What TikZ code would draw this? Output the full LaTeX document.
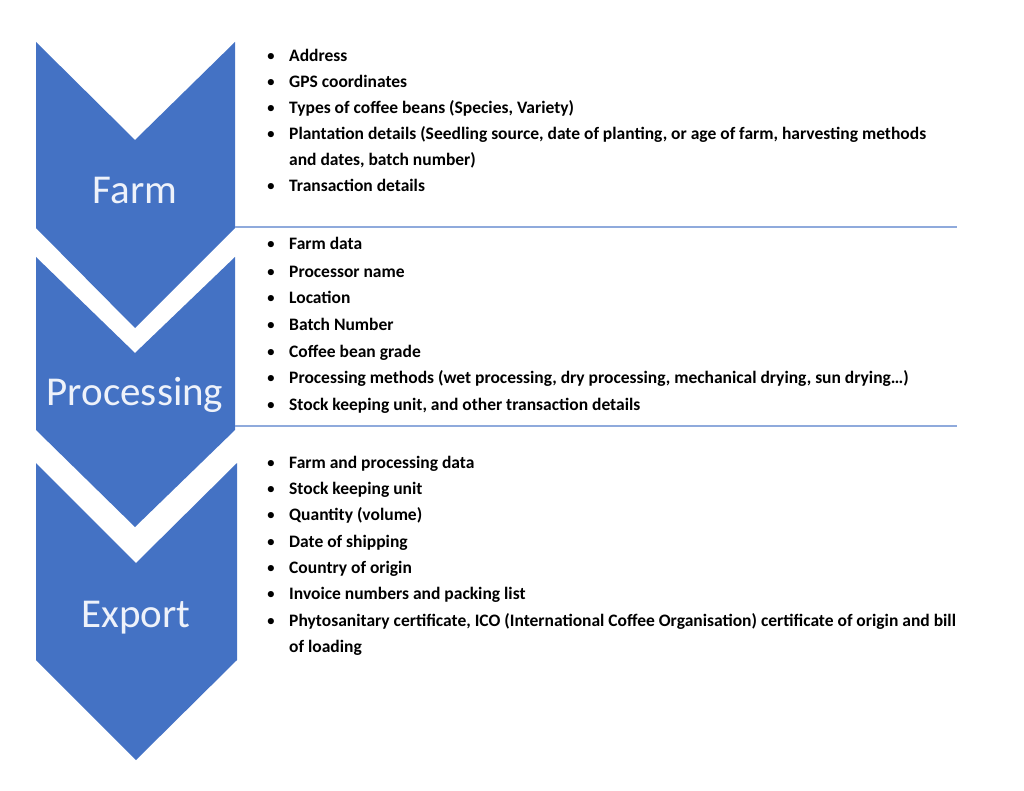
\documentclass[tikz,border=0pt]{standalone}
\usepackage{fontspec}
\setmainfont{Carlito}
\definecolor{chev}{HTML}{4472C4}
\definecolor{sep}{HTML}{8FAADC}
\definecolor{lab}{HTML}{EEF2FA}
\begin{document}
\begin{tikzpicture}[x=1pt,y=-1pt,
  chevbox/.style={fill=chev,draw=none},
  lbl/.style={text=lab,font=\fontsize{41}{45}\selectfont},
  itm/.style={anchor=base west,inner sep=0pt,font=\bfseries\fontsize{17.5}{20}\selectfont},
  bul/.style={anchor=base,inner sep=0pt,font=\fontsize{17.5}{20}\selectfont},
  sepline/.style={draw=sep,line width=1.8pt}]
\useasboundingbox (0,0) rectangle (1024,791);
\fill[chevbox] (36,42) -- (135,140) -- (235,42) -- (235,228) -- (135,328) -- (36,228) -- cycle;
\fill[chevbox] (36,257) -- (135,353) -- (235,257) -- (235,430) -- (135,527) -- (36,430) -- cycle;
\fill[chevbox] (36,463) -- (136,563) -- (237,463) -- (237,660) -- (136,760) -- (36,660) -- cycle;
\node[lbl] (farm) at (135,190) {Farm};
\node[lbl] (proc) at (135,395) {Processing};
\node[lbl] (exp) at (136,618) {Export};
\coordinate (s1a) at (235,227); \coordinate (s1b) at (957,227);
\coordinate (s2a) at (235,426); \coordinate (s2b) at (957,426);
\draw[sepline] (s1a) -- (s1b);
\draw[sepline] (s2a) -- (s2b);
\foreach \y/\t [count=\i] in {
 62/Address, 88/GPS coordinates, 114/{Types of coffee beans (Species, Variety)},
 140/{Plantation details (Seedling source, date of planting, or age of farm, harvesting methods},
 192/Transaction details,
 250/Farm data, 277/Processor name, 303/Location, 330/Batch Number, 357/Coffee bean grade,
 383/{Processing methods (wet processing, dry processing, mechanical drying, sun drying…)},
 410/{Stock keeping unit, and other transaction details},
 468/Farm and processing data, 494/Stock keeping unit, 520/Quantity (volume), 547/Date of shipping,
 573/Country of origin, 599/Invoice numbers and packing list,
 626/{Phytosanitary certificate, ICO (International Coffee Organisation) certificate of origin and bill}}
{ \node[bul] (b\i) at (271,\y) {\textbullet}; \node[itm] (t\i) at (289,\y) {\t}; }
\node[itm] (c1) at (289,166) {and dates, batch number)};
\node[itm] (c2) at (289,652) {of loading};
\end{tikzpicture}
\end{document}
